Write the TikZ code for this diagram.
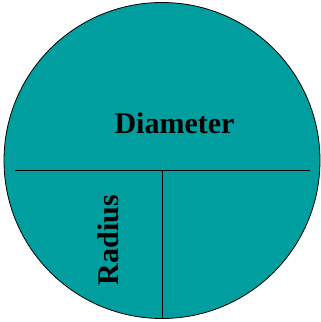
\documentclass[tikz,border=0pt]{standalone}
\usepackage{fontspec}
\setmainfont{Liberation Serif}
\begin{document}
\begin{tikzpicture}[x=1pt,y=-1pt]
\definecolor{disc}{RGB}{0,158,158}
\tikzset{partline/.style={line width=1pt,black}, lbl/.style={font=\fontsize{30}{35}\selectfont\bfseries,inner sep=0pt}}
\useasboundingbox (0,0) rectangle (321,322);
% the disc with its two chords
\draw[fill=disc,line width=0.8pt] (162,160.5) circle[radius=158];
\coordinate (dl) at (15,170);
\coordinate (dr) at (310,170);
\coordinate (rt) at (162,170);
\coordinate (rb) at (162,318);
\draw[partline] (dl) -- (dr);
\draw[partline] (rt) -- (rb);
\node[lbl] (diam) at (174.5,123) {Diameter};
\node[lbl,rotate=90] (rad) at (108,240) {Radius};
\end{tikzpicture}
\end{document}
